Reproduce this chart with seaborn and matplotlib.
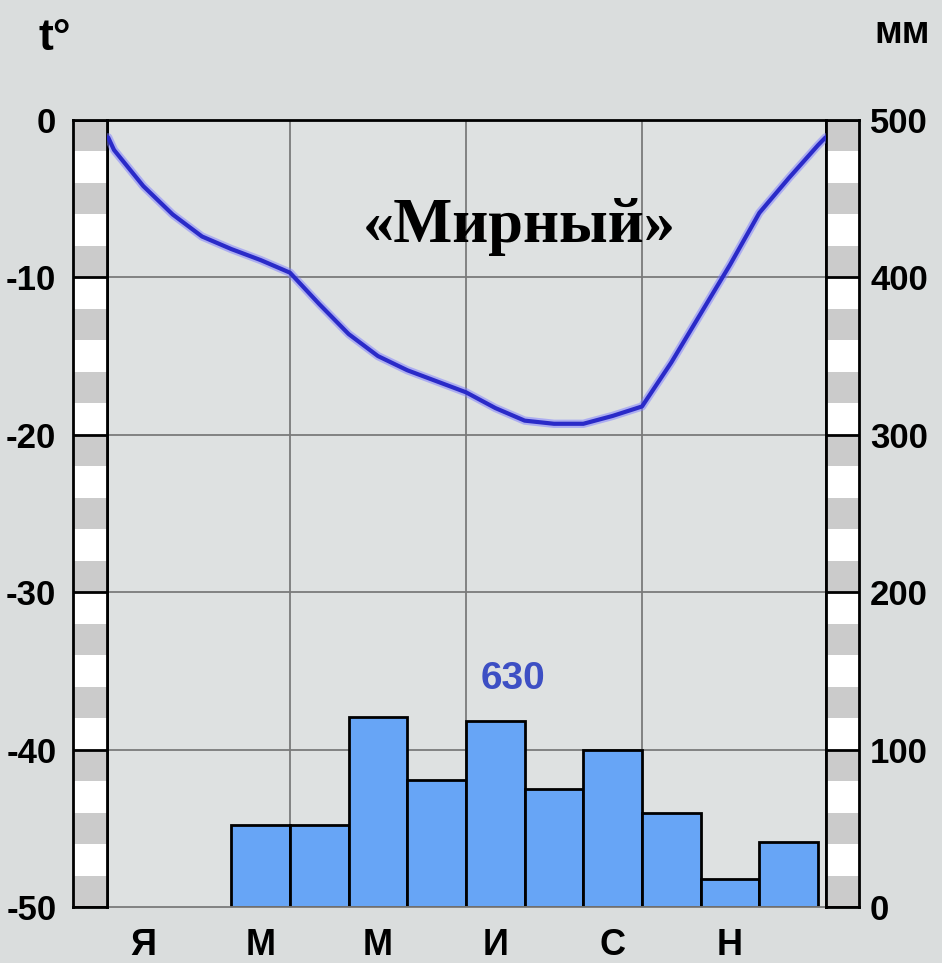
import matplotlib
matplotlib.use('Agg')
import matplotlib.pyplot as plt
import seaborn as sns

meses = ['Я', 'Ф', 'М', 'А', 'М', 'И', 'И', 'А', 'С', 'О', 'Н', 'Д']
precip_mm = [0, 0, 52, 52, 121, 81, 118, 75, 100, 60, 18, 41]
total_mm = '630'
# temperatura lida a cada meio mes (0 = centro de janeiro)
temp_pos = [-0.6, -0.5, 0.0, 0.5, 1.0, 1.5, 2.0, 2.5, 3.0, 3.5, 4.0, 4.5, 5.0,
            5.5, 6.0, 6.5, 7.0, 7.5, 8.0, 8.5, 9.0, 9.5, 10.0, 10.5, 11.0, 11.5, 11.63]
temp_c = [-1.1, -1.9, -4.2, -6.0, -7.4, -8.2, -8.9, -9.7, -11.7, -13.6, -15.0, -15.9, -16.6,
          -17.3, -18.3, -19.1, -19.3, -19.3, -18.8, -18.2, -15.4, -12.3, -9.2, -5.9, -3.7, -1.6, -1.1]
temp_ticks = [0, -10, -20, -30, -40, -50]
mm_ticks = [500, 400, 300, 200, 100, 0]

sns.set_style('white')
plt.rcParams['font.family'] = ['Liberation Sans', 'DejaVu Sans']
plt.rcParams['text.color'] = 'black'
plt.rcParams['xtick.color'] = 'black'
plt.rcParams['ytick.color'] = 'black'

fundo = '#dadddd'
fig = plt.figure(figsize=(9.42, 9.63), dpi=100, facecolor=fundo)

W, H = 942, 963
bottom = (H - 907) / H
height = 787 / H

ax = fig.add_axes([107 / W, bottom, 719 / W, height])
ax.set_facecolor('#dee1e1')


# barras listradas das escalas laterais
def escala(x0, x1, vmin, vmax, passo, marcas):
    axb = fig.add_axes([x0 / W, bottom, (x1 - x0) / W, height])
    axb.set_xlim(0, 1)
    axb.set_ylim(vmin, vmax)
    n = int(round((vmax - vmin) / passo))
    for k in range(n):
        cor = '#cbcbcb' if k % 2 == 0 else 'white'
        axb.axhspan(vmax - (k + 1) * passo, vmax - k * passo, color=cor, lw=0)
    for m in marcas:
        axb.axhline(m, color='black', lw=2)
    for s in axb.spines.values():
        s.set_color('black')
        s.set_linewidth(2)
    axb.set_xticks([])
    axb.set_yticks(marcas)
    axb.tick_params(axis='y', length=0, labelsize=25)
    return axb


esq = escala(73, 107, -50, 0, 2, temp_ticks)
esq.set_yticklabels([str(t) for t in temp_ticks], fontweight='bold')
esq.tick_params(axis='y', pad=12)

dir_ = escala(826, 859, 0, 500, 20, mm_ticks)
dir_.yaxis.tick_right()
dir_.set_yticklabels([str(t) for t in mm_ticks], fontweight='bold')
dir_.tick_params(axis='y', pad=8, length=0)

# grade
for v in [100, 200, 300, 400]:
    ax.axhline(v, color='#7a7a7a', lw=1.3, zorder=0)
for v in [2.5, 5.5, 8.5]:
    ax.axvline(v, color='#7a7a7a', lw=1.3, zorder=0)

# precipitacao
sns.barplot(x=list(range(12)), y=precip_mm, order=list(range(12)), ax=ax,
            color='#67a5f6', saturation=1, width=1, edgecolor='black', linewidth=2)
for p in ax.patches:
    if p.get_height() == 0:
        p.set_visible(False)
ax.set_ylim(0, 500)

# temperatura
axT = ax.twinx()
sns.lineplot(x=temp_pos, y=temp_c, ax=axT, sort=False, color='#7b7bff', lw=6, alpha=0.5)
sns.lineplot(x=temp_pos, y=temp_c, ax=axT, sort=False, color='#2a2ac8', lw=3)
axT.set_ylim(-50, 0)
axT.set_yticks([])
axT.set_ylabel('')
for s in axT.spines.values():
    s.set_visible(False)

ax.set_xlim(-0.619, 11.636)
ax.set_xticks([0, 2, 4, 6, 8, 10])
ax.set_xticklabels(meses[::2], fontweight='bold')
ax.tick_params(axis='x', length=0, labelsize=26, pad=15)
ax.set_yticks([])
ax.set_xlabel('')
ax.set_ylabel('')

for lado in ['top', 'left', 'right']:
    ax.spines[lado].set_color('black')
    ax.spines[lado].set_linewidth(2)
ax.spines['bottom'].set_color('#7a7a7a')
ax.spines['bottom'].set_linewidth(1.3)

# textos
ax.text(0.574, 0.845, '«Мирный»', transform=ax.transAxes, ha='center', va='baseline',
        fontsize=45, fontweight='bold', family=['Liberation Serif', 'DejaVu Serif'])
ax.text(0.565, 0.29, total_mm, transform=ax.transAxes, ha='center', va='center',
        fontsize=28, fontweight='bold', color='#3d4fc4')
fig.text(55 / W, 1 - 38 / H, 't°', ha='center', va='center', fontsize=32, fontweight='bold')
fig.text(902 / W, 1 - 33 / H, 'мм', ha='center', va='center', fontsize=27, fontweight='bold')

fig.savefig('out.png', dpi=100, facecolor=fundo)
